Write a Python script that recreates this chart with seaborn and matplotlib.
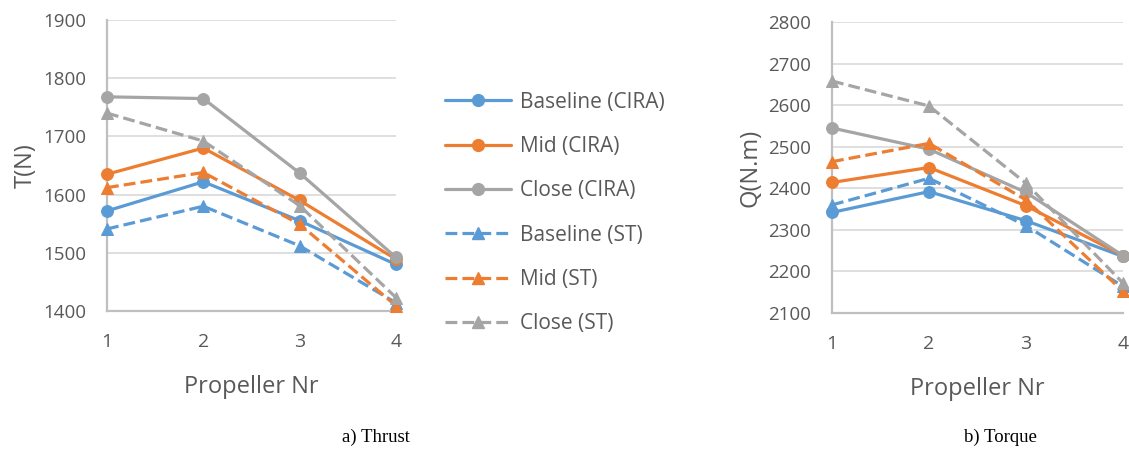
import matplotlib
matplotlib.use("Agg")
import matplotlib.pyplot as plt
import seaborn as sns
import pandas as pd
from matplotlib.lines import Line2D

propellers = [1, 2, 3, 4]
series_names = ["Baseline (CIRA)", "Mid (CIRA)", "Close (CIRA)",
                "Baseline (ST)", "Mid (ST)", "Close (ST)"]

thrust_baseline_cira = [1572, 1622, 1555, 1480]
thrust_mid_cira = [1635, 1680, 1590, 1489]
thrust_close_cira = [1768, 1765, 1637, 1492]
thrust_baseline_st = [1541, 1580, 1512, 1414]
thrust_mid_st = [1612, 1638, 1549, 1409]
thrust_close_st = [1740, 1692, 1581, 1423]

torque_baseline_cira = [2342, 2392, 2322, 2236]
torque_mid_cira = [2414, 2450, 2358, 2238]
torque_close_cira = [2545, 2494, 2390, 2238]
torque_baseline_st = [2360, 2424, 2310, 2164]
torque_mid_st = [2464, 2508, 2372, 2152]
torque_close_st = [2658, 2598, 2412, 2172]

thrust_ticks = [1400, 1500, 1600, 1700, 1800, 1900]
torque_ticks = [2100, 2200, 2300, 2400, 2500, 2600, 2700, 2800]

thrust = [thrust_baseline_cira, thrust_mid_cira, thrust_close_cira,
          thrust_baseline_st, thrust_mid_st, thrust_close_st]
torque = [torque_baseline_cira, torque_mid_cira, torque_close_cira,
          torque_baseline_st, torque_mid_st, torque_close_st]

colors = ["#5B9BD5", "#ED7D31", "#A5A5A5"] * 2
markers = ["o"] * 3 + ["^"] * 3
styles = ["-"] * 3 + ["--"] * 3

sns.set_style("white")
plt.rcParams["font.family"] = ["Open Sans", "DejaVu Sans"]
TXT = "#595959"

fig = plt.figure(figsize=(11.29, 4.5), dpi=100)
axL = fig.add_axes([107/1129, 1-311/450, 289/1129, 291/450])
axR = fig.add_axes([832/1129, 1-313/450, 291/1129, 291/450])


def draw(ax, data, ticks, ylabel):
    for name, vals, c, m, ls in zip(series_names, data, colors, markers, styles):
        df = pd.DataFrame({"x": propellers, "y": vals})
        sns.lineplot(data=df, x="x", y="y", ax=ax, color=c, marker=m,
                     linestyle=ls, linewidth=2.3, markersize=8.5,
                     markeredgecolor=c, clip_on=False, zorder=3)
    ax.set_xlim(1, 4)
    ax.set_ylim(ticks[0], ticks[-1])
    ax.set_yticks(ticks)
    ax.set_xticks(propellers)
    ax.grid(axis="y", color="#D9D9D9", linewidth=1.2)
    ax.grid(axis="x", visible=False)
    for s in ["top", "right"]:
        ax.spines[s].set_visible(False)
    for s in ["left", "bottom"]:
        ax.spines[s].set_color("#BFBFBF")
        ax.spines[s].set_linewidth(1.6)
    ax.tick_params(axis="y", length=0, pad=15, labelsize=13.5, labelcolor=TXT)
    ax.tick_params(axis="x", length=0, pad=16, labelsize=14, labelcolor=TXT)
    ax.set_xlabel("Propeller Nr", fontsize=17, color=TXT, labelpad=17)
    ax.set_ylabel(ylabel, fontsize=17, color=TXT, labelpad=4)


draw(axL, thrust, thrust_ticks, "T(N)")
draw(axR, torque, torque_ticks, "Q(N.m)")

handles = [Line2D([], [], color=c, marker=m, linestyle=ls, linewidth=2.3,
                  markersize=8.5) for c, m, ls in zip(colors, markers, styles)]
fig.legend(handles, series_names, loc="upper left",
           bbox_to_anchor=(426/1129, 1-73/450), frameon=False,
           fontsize=15, labelcolor=TXT, handlelength=3.2,
           labelspacing=1.12, handletextpad=0.4)

fig.text(376/1129, 1-437/450, "a) Thrust", ha="center", va="center",
         fontsize=13.5, family="Liberation Serif", color="black")
fig.text(1000/1129, 1-437/450, "b) Torque", ha="center", va="center",
         fontsize=13.5, family="Liberation Serif", color="black")

fig.savefig("out.png", dpi=100)
